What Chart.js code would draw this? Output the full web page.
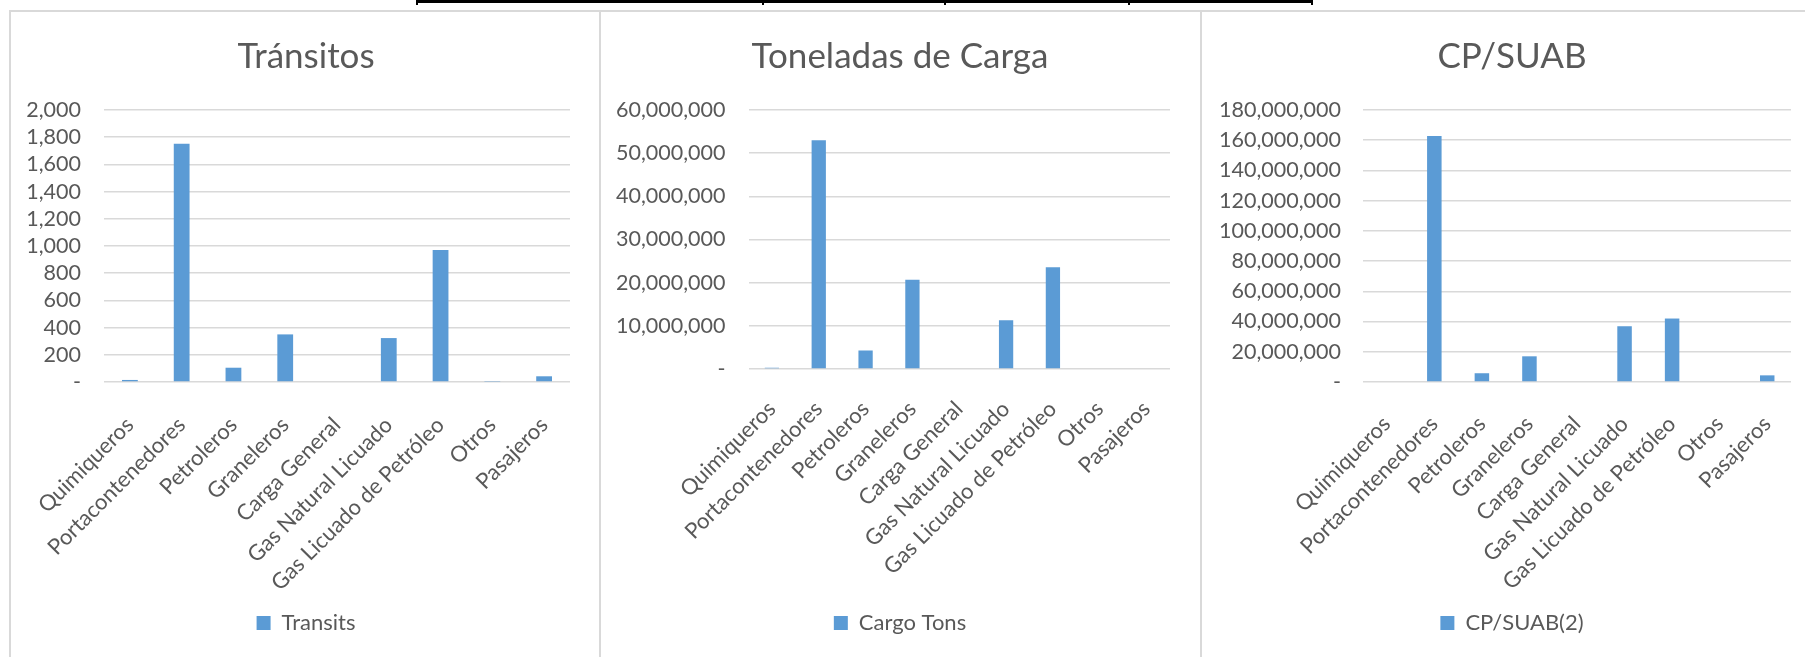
<!DOCTYPE html>
<html>
<head>
<meta charset="utf-8">
<script src="https://cdn.jsdelivr.net/npm/chart.js@4.4.0/dist/chart.umd.min.js"></script>
<style>
body { margin: 0; width: 1805px; height: 657px; overflow: hidden; background: #fff; position: relative; }
.panel { position: absolute; top: 10px; height: 700px; box-sizing: border-box; border: 1px solid #d9d9d9; border-top-width: 2px; }
.tbl { position: absolute; background: #000; }
canvas { position: absolute; top: 12px; }
</style>
</head>
<body>
<!-- bottom edge of the table above the charts -->
<div class="tbl" style="left:416px;top:0;width:897px;height:3px"></div>
<div class="tbl" style="left:416px;top:0;width:2px;height:5px"></div>
<div class="tbl" style="left:762px;top:0;width:2px;height:5px"></div>
<div class="tbl" style="left:944px;top:0;width:2px;height:5px"></div>
<div class="tbl" style="left:1128px;top:0;width:2px;height:5px"></div>
<div class="tbl" style="left:1311px;top:0;width:2px;height:5px"></div>

<div class="panel" style="left:9px;width:591px;border-left-width:2px"></div>
<div class="panel" style="left:600px;width:601px"></div>
<div class="panel" style="left:1201px;width:700px"></div>

<canvas id="transitsChart" width="590" height="645" style="left:11px"></canvas>
<canvas id="cargoChart" width="596" height="645" style="left:602px"></canvas>
<canvas id="cpsuabChart" width="618" height="645" style="left:1203px"></canvas>

<script>
const categories = ["Quimiqueros", "Portacontenedores", "Petroleros", "Graneleros", "Carga General",
    "Gas Natural Licuado", "Gas Licuado de Petróleo", "Otros", "Pasajeros"];

const transits = [15, 1752, 105, 350, 0, 323, 970, 3, 42];
const cargoTons = [300000, 53000000, 4300000, 20700000, 0, 11300000, 23600000, 0, 0];
const cpSuab = [0, 162800000, 5800000, 17000000, 0, 36900000, 42000000, 0, 4400000];

const transitTicks = [0, 200, 400, 600, 800, 1000, 1200, 1400, 1600, 1800, 2000];
const cargoTicks = [0, 10000000, 20000000, 30000000, 40000000, 50000000, 60000000];
const cpSuabTicks = [0, 20000000, 40000000, 60000000, 80000000, 100000000, 120000000, 140000000, 160000000, 180000000];

const textColor = "#595959";
const barColor = "#5b9bd5";

Chart.defaults.font.family = "Lato";
Chart.defaults.color = textColor;

function drawChart(id, title, label, values, ticks, box) {
    new Chart(document.getElementById(id), {
        type: "bar",
        data: {
            labels: categories,
            datasets: [{
                label: label,
                data: values,
                backgroundColor: barColor,
                barPercentage: 0.305,
                categoryPercentage: 1
            }]
        },
        options: {
            responsive: false,
            animation: false,
            layout: {
                padding: { left: 0, right: 0, top: 0, bottom: 13 }
            },
            plugins: {
                title: {
                    display: true,
                    text: title,
                    color: textColor,
                    font: { size: 35, weight: "normal" },
                    padding: { top: 24, bottom: 32 }
                },
                legend: {
                    position: "bottom",
                    labels: { boxWidth: 14, boxHeight: 14, padding: 10, color: textColor, font: { size: 22 } }
                },
                tooltip: { enabled: false }
            },
            scales: {
                x: {
                    grid: { display: false },
                    border: { display: false },
                    ticks: {
                        autoSkip: false,
                        minRotation: 45,
                        maxRotation: 45,
                        padding: box.xPad,
                        color: textColor,
                        font: { size: 22 }
                    },
                    // fixed axis size; the right gap keeps title and legend centred on the panel
                    afterFit: function(scale) {
                        scale.height = box.xHeight;
                        scale.paddingLeft = 0;
                        scale.paddingRight = box.right;
                    }
                },
                y: {
                    min: 0,
                    max: ticks[ticks.length - 1],
                    grid: { color: "#d9d9d9", lineWidth: 1.5, drawTicks: false },
                    border: { display: false },
                    ticks: {
                        autoSkip: false,
                        padding: box.yPad,
                        color: textColor,
                        font: { size: 21.5 },
                        callback: function(v) { return v === 0 ? "-" : v.toLocaleString("en-US"); }
                    },
                    afterBuildTicks: function(scale) {
                        scale.ticks = ticks.map(function(v) { return { value: v }; });
                    },
                    afterFit: function(scale) { scale.width = box.yWidth; }
                }
            }
        }
    });
}

drawChart("transitsChart", "Tránsitos", "Transits", transits, transitTicks,
    { right: 31, yWidth: 93, yPad: 23, xHeight: 220, xPad: 22 });
drawChart("cargoChart", "Toneladas de Carga", "Cargo Tons", cargoTons, cargoTicks,
    { right: 28, yWidth: 146.5, yPad: 23, xHeight: 233, xPad: 19 });
drawChart("cpsuabChart", "CP/SUAB", "CP/SUAB(2)", cpSuab, cpSuabTicks,
    { right: 30, yWidth: 160, yPad: 22, xHeight: 220, xPad: 21 });
</script>
</body>
</html>
